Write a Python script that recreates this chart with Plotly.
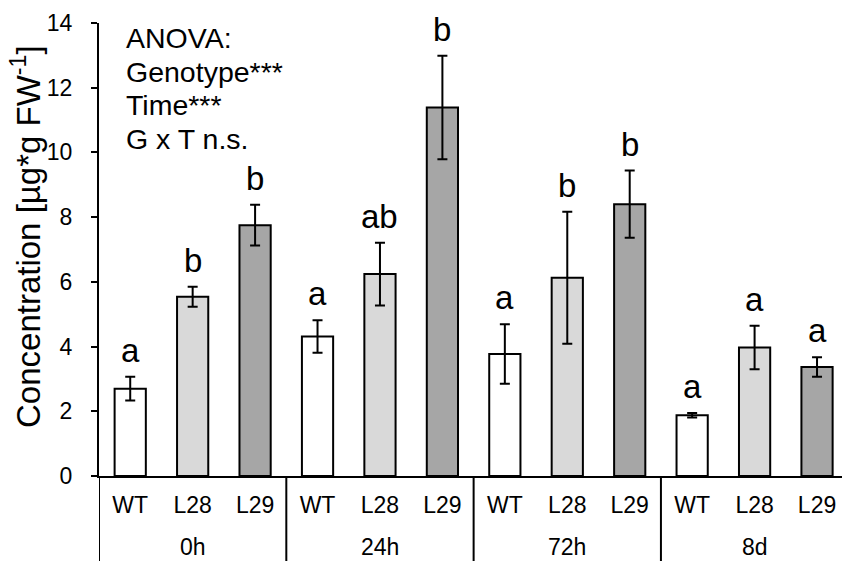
import plotly.graph_objects as go

times = ["0h", "24h", "72h", "8d"]
genotypes = ["WT", "L28", "L29"]
# means per genotype across times
means = {
    "WT":  [2.70, 4.31, 3.77, 1.88],
    "L28": [5.54, 6.24, 6.13, 3.97],
    "L29": [7.75, 11.39, 8.40, 3.37],
}
errors = {
    "WT":  [0.37, 0.50, 0.92, 0.07],
    "L28": [0.31, 0.97, 2.04, 0.67],
    "L29": [0.63, 1.60, 1.04, 0.30],
}
letters = {
    "WT":  ["a", "a", "a", "a"],
    "L28": ["b", "ab", "b", "a"],
    "L29": ["b", "b", "b", "a"],
}
colors = {"WT": "#ffffff", "L28": "#d9d9d9", "L29": "#a6a6a6"}
anova_lines = ["ANOVA:", "Genotype***", "Time***", "G x T n.s."]
y_title = "Concentration [µg*g FW<sup>-1</sup>]"

FONT = "Arial, 'Liberation Sans', sans-serif"
ng = len(genotypes)

W, H, L, T, B = 842, 561, 99, 23, 85
ph = H - T - B
pw = W - L


def px_to_paper_y(py):
    return (H - B - py) / ph


def px_to_paper_x(px):
    return (px - L) / pw


fig = go.Figure()
annotations = []
tickvals, ticktext = [], []
for gi, g in enumerate(genotypes):
    xs = [ti * ng + gi for ti in range(len(times))]
    fig.add_trace(go.Bar(
        x=xs, y=means[g], width=0.5,
        marker=dict(color=colors[g], line=dict(color="black", width=2)),
        error_y=dict(type="data", array=errors[g], color="black", thickness=2, width=5),
        showlegend=False,
    ))
    for x, m, e, lt in zip(xs, means[g], errors[g], letters[g]):
        annotations.append(dict(x=x, y=m + e, text=lt, xref="x", yref="y",
                                showarrow=False, yanchor="bottom", yshift=6,
                                font=dict(size=33, color="black", family=FONT)))
    tickvals += xs
    ticktext += [g] * len(xs)

for ti, t in enumerate(times):
    annotations.append(dict(x=ti * ng + (ng - 1) / 2, y=px_to_paper_y(547), xref="x", yref="paper",
                            text=t, showarrow=False, yanchor="middle",
                            font=dict(size=23, color="black", family=FONT)))

for i, line in enumerate(anova_lines):
    annotations.append(dict(x=px_to_paper_x(124), y=px_to_paper_y(38 + 33.6 * i),
                            xref="paper", yref="paper", xanchor="left", yanchor="middle",
                            align="left", showarrow=False, text=line,
                            font=dict(size=28.5, color="black", family=FONT)))

annotations.append(dict(x=px_to_paper_x(26), y=px_to_paper_y(237), xref="paper", yref="paper",
                        xanchor="center", yanchor="middle", showarrow=False,
                        text=y_title, textangle=-90,
                        font=dict(size=33, color="black", family=FONT)))

shapes = []
for ti in range(len(times)):
    xb = ti * ng - 0.5
    shapes.append(dict(type="line", xref="x", yref="paper", x0=xb, x1=xb, y0=0, y1=-0.25,
                       line=dict(color="black", width=2)))

fig.update_layout(
    width=W, height=H,
    margin=dict(l=L, r=0, t=T, b=B),
    paper_bgcolor="white", plot_bgcolor="white",
    bargap=0.5,
    annotations=annotations,
    shapes=shapes,
    font=dict(family=FONT, color="black"),
)
fig.update_xaxes(range=[-0.5, 11.4], tickvals=tickvals, ticktext=ticktext,
                 tickfont=dict(size=23, family=FONT, color="black"),
                 showline=True, linecolor="black", linewidth=2,
                 ticks="", showgrid=False, zeroline=False, ticklabelstandoff=7)
fig.update_yaxes(range=[0, 14], dtick=2, tick0=0,
                 tickfont=dict(size=23, family=FONT, color="black"),
                 showline=True, linecolor="black", linewidth=2,
                 ticks="outside", ticklen=6, tickwidth=2, tickcolor="black",
                 showgrid=False, zeroline=False, ticklabelstandoff=14)

fig.write_html("out.html")
